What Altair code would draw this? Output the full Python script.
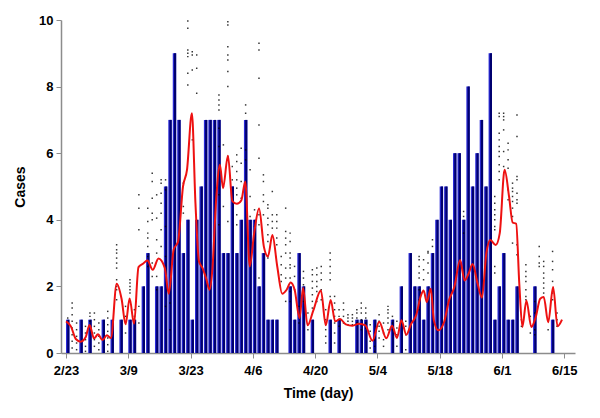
import altair as alt
import pandas as pd

# ---- data ----
x_tick_days = [0, 14, 28, 42, 56, 70, 84, 98, 112]
x_tick_labels = ["2/23", "3/9", "3/23", "4/6", "4/20", "5/4", "5/18", "6/1", "6/15"]

bar_days = [0, 3, 5, 8, 10, 12, 14, 15, 17, 18, 20, 21, 22, 23, 24, 25, 26, 27, 28, 29,
            30, 31, 32, 33, 34, 35, 36, 37, 38, 39, 40, 41, 42, 43, 44, 45, 46, 47, 50, 51,
            52, 53, 55, 59, 61, 65, 66, 67, 69, 73, 75, 77, 78, 79, 80, 81, 82, 83, 84, 85,
            86, 87, 88, 89, 90, 91, 92, 93, 94, 95, 96, 97, 98, 99, 100, 101, 105, 109]
bar_cases = [1, 1, 1, 1, 1, 1, 1, 1, 2, 3, 2, 2, 5, 7, 9, 7, 3, 4, 1, 4,
             5, 7, 7, 7, 7, 3, 3, 5, 3, 4, 7, 4, 4, 2, 3, 1, 1, 1, 2, 1,
             3, 2, 1, 1, 1, 1, 1, 1, 1, 1, 2, 3, 2, 2, 1, 2, 3, 4, 5, 5,
             4, 6, 6, 4, 8, 5, 6, 7, 5, 9, 1, 2, 3, 1, 1, 2, 2, 1]

curve_days = [0, 1.1, 2.2, 3.3, 4.4, 5.3, 6.3, 7.2, 8.2, 9.2, 10.1, 11.4, 12.5, 13.4, 14.3,
              15.3, 16.3, 17.3, 18.3, 19.5, 20.8, 22.2, 23.1, 24.2, 25.2, 26.3, 27.2, 28.3,
              29.1, 29.9, 30.7, 31.5, 32.3, 32.9, 33.8, 34.6, 35.3, 36.4, 37.4, 38.4, 39.4,
              40.3, 41.3, 42.3, 43.4, 44.5, 45.4, 46.4, 47.5, 48.6, 49.6, 50.5, 51.4, 52.5,
              53.3, 54.3, 55.6, 57.3, 58.4, 59.5, 60.5, 61.6, 62.9, 64.4, 65.9, 67.3, 68.9,
              70.4, 72.0, 73.3, 74.4, 75.4, 76.5, 77.6, 78.7, 79.8, 80.4, 81.1, 82.0, 82.7,
              83.7, 85.0, 86.1, 87.3, 88.6, 89.6, 90.5, 91.4, 92.5, 93.5, 94.5, 95.4, 96.6,
              97.5, 98.6, 99.6, 100.4, 101.2, 101.9, 102.6, 103.5, 104.6, 105.6, 106.6,
              107.4, 108.4, 109.5, 110.5, 111.5]
curve_values = [0.95, 0.8, 0.42, 0.34, 0.47, 0.84, 0.44, 0.56, 0.39, 0.53, 0.45, 2.08, 1.62,
                0.86, 1.64, 0.88, 2.58, 2.68, 2.78, 2.5, 2.84, 2.56, 1.78, 3.1, 3.35, 5.0,
                5.5, 7.2, 4.5, 2.75, 2.55, 2.24, 1.9, 2.5, 4.7, 5.65, 4.95, 5.92, 4.56, 4.48,
                4.58, 5.15, 2.6, 3.6, 4.34, 3.18, 2.9, 3.54, 2.59, 1.78, 1.9, 2.12, 1.9, 1.05,
                1.95, 0.83, 1.28, 1.88, 0.83, 1.59, 0.95, 1.02, 0.86, 0.82, 0.88, 0.83, 0.37,
                0.94, 0.44, 0.82, 0.45, 0.98, 0.55, 0.88, 1.13, 1.73, 1.88, 1.53, 1.93, 0.98,
                0.68, 0.93, 1.58, 1.98, 2.79, 2.18, 2.38, 2.67, 2.1, 1.66, 3.0, 3.39, 3.24,
                3.59, 5.5, 4.7, 3.92, 3.88, 2.08, 0.78, 1.58, 0.78, 1.08, 1.63, 1.68, 0.92,
                1.98, 0.8, 1.0]

dot_samples = {
    0: [1.05, 0.9],
    1: [1.5, 1.35, 1.15, 0.95, 0.75, 0.55, 0.35, 0.15],
    2: [0.9, 0.7, 0.5, 0.3, 0.1],
    4: [0.8, 0.6, 0.4, 0.2, 0.05],
    5: [1.2, 1.1, 0.95],
    6: [1.2, 1.0, 0.8, 0.6, 0.4, 0.2],
    7: [0.9, 0.7, 0.5, 0.3, 0.1],
    9: [1.25, 1.05, 0.85, 0.65, 0.45, 0.25, 0.05],
    11: [3.25, 3.1, 3.0, 2.85, 2.7, 2.55, 2.2, 2.0, 1.9, 1.6],
    13: [1.4, 1.1, 0.6],
    14: [2.2, 2.1, 2.0, 1.9, 1.8],
    15: [1.3, 1.1, 0.9],
    16: [4.75, 4.35, 3.7, 1.4, 0.9],
    18: [4.35, 3.95, 3.6, 3.45, 3.2, 2.9, 2.6],
    19: [5.4, 5.15, 4.65, 4.2, 4.0, 2.7, 2.3],
    20: [4.75, 4.05, 3.4, 3.0, 2.3, 1.9],
    21: [5.2, 5.1, 4.8, 4.5, 4.2, 3.7, 3.2],
    22: [5.2, 4.9, 3.8, 2.9, 1.4],
    23: [1.5, 0.7],
    26: [5.1, 4.4, 4.2],
    27: [9.97, 9.75, 9.1, 9.0, 8.9, 8.4, 8.05],
    28: [9.05, 8.95, 8.5, 6.4],
    29: [8.95, 8.55, 7.8],
    34: [7.75, 7.6, 7.45, 7.3, 6.75, 6.2, 4.75, 3.85],
    35: [6.25, 5.0, 4.4],
    36: [9.95, 9.85, 9.2, 8.95, 8.8, 8.45, 8.0, 5.9, 3.95],
    37: [5.6, 5.2, 4.6],
    38: [5.95, 5.75, 5.45, 5.2, 4.95, 4.75, 4.15, 3.85],
    39: [6.15, 5.7, 5.15, 4.65],
    40: [7.45, 7.2, 6.1, 5.8],
    41: [5.5, 4.7, 4.1],
    42: [4.3, 3.8],
    43: [9.3, 9.1, 8.25, 6.85, 5.85, 4.15, 3.85, 2.25],
    44: [5.35, 5.15, 4.75, 4.55, 4.15],
    45: [4.45, 4.35, 4.05, 3.85, 3.55, 3.35, 2.85],
    46: [4.85, 4.15, 3.95, 3.75],
    47: [4.15, 3.95, 3.75, 3.45, 3.25],
    48: [2.9, 2.65, 2.35, 2.15],
    49: [4.35, 3.65, 3.45, 3.25, 3.0, 2.55, 2.25, 1.55],
    50: [3.6, 3.35, 3.0, 2.85, 2.65, 2.55, 2.25, 1.85, 1.55],
    51: [2.6, 2.3, 1.9],
    52: [1.4, 0.9],
    53: [2.45, 2.25, 2.05, 1.85, 1.55],
    54: [1.2, 0.7],
    55: [2.5, 2.35, 2.15, 1.95, 1.75, 1.55, 1.35],
    56: [2.55, 2.35, 2.15, 2.0, 1.85, 1.55],
    57: [2.6, 2.4, 2.2, 1.9, 1.6],
    58: [1.3, 1.0, 0.85, 0.7, 0.5, 0.3],
    59: [3.0, 2.8, 2.6, 2.4, 2.2, 1.7],
    60: [1.7, 1.5, 1.3, 1.1, 0.9, 0.6, 0.3],
    61: [1.3, 1.1, 1.0, 0.8],
    62: [1.5, 1.3, 1.1, 0.9],
    63: [1.15, 1.05, 0.95, 0.85],
    64: [1.15, 1.05, 0.95, 0.85],
    65: [1.3, 1.2, 1.05, 0.9],
    66: [1.5, 1.35, 1.2, 1.0, 0.7],
    67: [1.35, 1.2, 1.05, 0.9, 0.75],
    68: [0.85, 0.65, 0.35, 0.15],
    69: [0.6, 0.4, 0.2, 0.05],
    70: [1.15, 0.95, 0.8, 0.65, 0.45],
    71: [0.9, 0.6, 0.4, 0.2],
    72: [1.4, 1.3, 1.2, 1.05, 0.9, 0.7],
    73: [1.1, 0.9, 0.7],
    74: [0.95, 0.75, 0.55, 0.2],
    76: [0.95, 0.8, 0.55, 0.1],
    79: [2.9, 2.8, 2.6, 2.4, 2.25, 1.9, 1.6, 1.3],
    80: [2.8, 2.5, 2.2],
    81: [3.05, 3.0, 2.7, 2.4],
    82: [3.4, 3.2],
    89: [4.25, 4.1, 3.6],
    96: [4.7, 4.5, 4.3, 4.15, 4.0, 3.8, 3.7, 2.6, 2.4],
    97: [7.2, 7.1, 6.6, 6.4, 6.2, 6.05, 5.9, 5.65, 5.45, 5.2],
    98: [7.2, 7.1, 7.0, 6.7, 6.05, 5.6],
    99: [6.3, 6.1, 5.8, 5.55, 4.9, 4.6],
    100: [5.1, 4.95, 4.85, 4.7, 4.55, 4.35, 4.1, 3.3],
    101: [7.15, 6.5, 5.3, 5.2, 4.8, 4.6, 4.5, 3.25, 2.95],
    102: [1.0, 0.8],
    103: [2.65, 2.45, 2.3, 2.15, 1.9, 1.7, 1.6],
    104: [1.1, 0.6],
    105: [1.55, 1.2, 1.0, 0.7, 0.55],
    106: [3.2, 2.9, 2.7, 2.6],
    107: [2.75, 2.6, 2.4, 2.25, 2.1, 1.95, 1.8],
    108: [1.0, 0.7],
    109: [3.05, 2.75, 2.5, 2.15, 1.8, 1.6],
    110: [1.2, 1.0, 0.8],
}

# ---- tables ----
bars = pd.DataFrame({"day": bar_days, "cases": bar_cases})
curve = pd.DataFrame({"day": curve_days, "value": curve_values})
dot_rows = [(d, v) for d, vals in dot_samples.items() for v in vals]
dots = pd.DataFrame(dot_rows, columns=["day", "value"])

label_expr = "[" + ",".join("'%s'" % s for s in x_tick_labels) + "][round(datum.value/14)]"

FONT = "Liberation Sans"

x_scale = alt.Scale(domain=[0, 113.3], nice=False, zero=False)
y_scale = alt.Scale(domain=[0, 10], nice=False)

x_axis = alt.Axis(values=x_tick_days, labelExpr=label_expr, title="Time (day)",
                  grid=False, tickSize=5, labelPadding=6, titlePadding=9)
y_axis = alt.Axis(values=[0, 2, 4, 6, 8, 10], title="Cases", grid=False,
                  tickSize=5, labelPadding=3, titlePadding=11)

base_x = alt.X("day:Q", scale=x_scale, axis=x_axis)

bar_outer = alt.Chart(bars).mark_bar(width=3.4, xOffset=1.7, color="#2a2ad8").encode(
    x=base_x,
    y=alt.Y("cases:Q", scale=y_scale, axis=y_axis),
)
bar_inner = alt.Chart(bars).mark_bar(width=2.2, xOffset=2.3, color="#00006e").encode(
    x=alt.X("day:Q", scale=x_scale),
    y=alt.Y("cases:Q", scale=y_scale),
)
dot_layer = alt.Chart(dots).mark_square(size=2.2, color="black", opacity=0.8, xOffset=1.7).encode(
    x=alt.X("day:Q", scale=x_scale),
    y=alt.Y("value:Q", scale=y_scale),
)
line_layer = alt.Chart(curve).mark_line(color="#ee1111", strokeWidth=2, interpolate="monotone").encode(
    x=alt.X("day:Q", scale=x_scale),
    y=alt.Y("value:Q", scale=y_scale),
)

chart = alt.layer(bar_outer, bar_inner, dot_layer, line_layer).properties(
    width=514,
    height=333,
    autosize=alt.AutoSizeParams(type="none"),
    padding={"left": 53, "top": 12, "right": 10, "bottom": 50},
    background="white",
).configure_view(stroke=None).configure_axis(
    domainColor="#8c8c8c",
    tickColor="#8c8c8c",
    domainWidth=1.5,
    labelFont=FONT,
    labelFontWeight="bold",
    labelFontSize=13,
    labelColor="black",
    titleFont=FONT,
    titleFontWeight="bold",
    titleFontSize=14,
    titleColor="black",
)

chart.save("out.html", embed_options={"renderer": "svg", "actions": False})
